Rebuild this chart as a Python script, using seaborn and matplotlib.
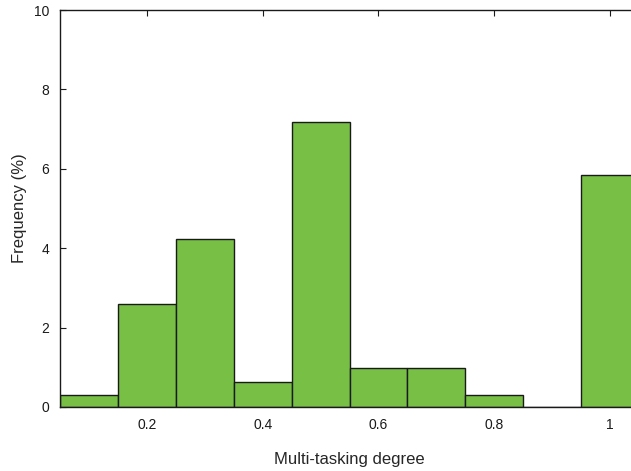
import numpy as np
import matplotlib
matplotlib.use('Agg')
import matplotlib.pyplot as plt
import seaborn as sns

# multi-tasking degree bins (centres) and frequency in %
degree = [0.1, 0.2, 0.3, 0.4, 0.5, 0.6, 0.7, 0.8, 0.9, 1.0]
frequency = [0.31, 2.60, 4.23, 0.64, 7.18, 0.97, 0.97, 0.31, 0.0, 5.85]
x_ticks = [0.2, 0.4, 0.6, 0.8, 1.0]
x_tick_labels = ['0.2', '0.4', '0.6', '0.8', '1']
y_ticks = [0, 2, 4, 6, 8, 10]

sns.set_style("ticks")
plt.rcParams['font.family'] = ['Liberation Sans', 'DejaVu Sans']

fig = plt.figure(figsize=(6.31, 4.71), dpi=100)
ax = fig.add_axes([60 / 631, 1 - 407 / 471, (639 - 60) / 631, (407 - 10) / 471])

sns.histplot(x=degree, weights=frequency, binwidth=0.1, binrange=(0.05, 1.05),
             color='#77bf45', edgecolor='#1a1a1a', linewidth=1.0, alpha=1.0, ax=ax)

ax.set_xlim(0.05, 1.05)
ax.set_ylim(0, 10)
ax.set_xticks(x_ticks)
ax.set_xticklabels(x_tick_labels)
ax.set_yticks(y_ticks)
ax.tick_params(direction='in', top=True, right=True, length=4, width=0.8,
               labelsize=10, colors='#1a1a1a', pad=8)
for s in ax.spines.values():
    s.set_linewidth(1.0)
    s.set_color('#1a1a1a')
ax.set_xlabel('Multi-tasking degree', fontsize=12, labelpad=14)
ax.set_ylabel('Frequency (%)', fontsize=12, labelpad=5)

fig.savefig('out.png', dpi=100)
